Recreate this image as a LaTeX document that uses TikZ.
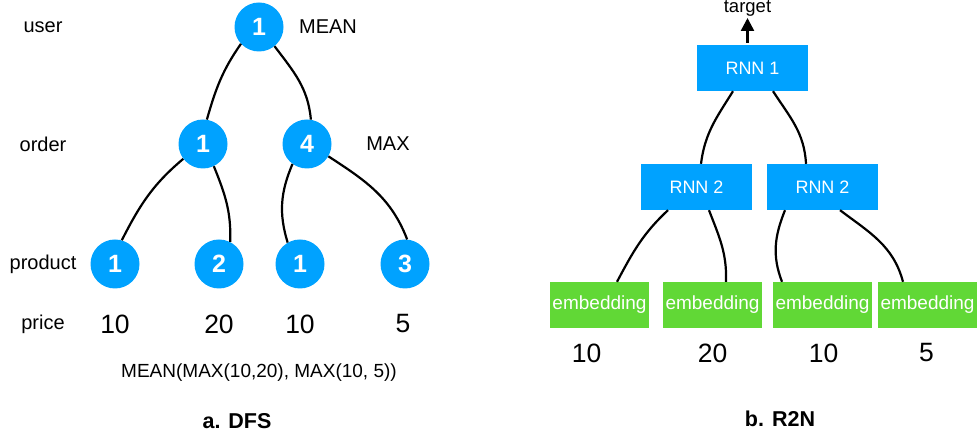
\documentclass[tikz,border=0pt]{standalone}
\usepackage{fontspec}
\setmainfont{Liberation Sans}
\usetikzlibrary{positioning, arrows.meta}
\definecolor{dfsblue}{HTML}{00A2FF}
\definecolor{embgreen}{HTML}{61D836}
\tikzset{x=1pt, y=1pt, on grid, % Centre to centre placement
vert/.style={ % Tree vertices of the DFS picture
circle, fill=dfsblue, minimum size=49pt, inner sep=0pt,
text=white, font=\fontsize{25}{25}\bfseries\selectfont},
rnn/.style={ % RNN cells
rectangle, fill=dfsblue, minimum width=111pt, minimum height=46pt,
inner sep=0pt, text=white, font=\fontsize{18}{18}\selectfont},
emb/.style={ % Embedding cells
rectangle, fill=embgreen, minimum width=99pt, minimum height=46pt,
inner sep=0pt, text=white, font=\fontsize{19}{19}\selectfont},
lbl/.style={inner sep=0pt, font=\fontsize{20}{20}\selectfont},
num/.style={inner sep=0pt, font=\fontsize{26.5}{27}\selectfont},
caption/.style={inner sep=0pt, font=\fontsize{21.5}{22}\bfseries\selectfont},
link/.style={draw, line width=2.2pt}}

\begin{document}
\begin{tikzpicture}
    \useasboundingbox (0,0) rectangle (977,436);
    % a. DFS
    \node[vert] (u) at (259,409) {1};
    \node[vert, below left=117pt and 56pt of u] (o1) {1};
    \node[vert, right=104pt of o1] (o4) {4};
    \node[vert, below left=120pt and 88pt of o1] (p1) {1};
    \node[vert, right=104pt of p1] (p2) {2};
    \node[vert, right=81pt of p2] (p3) {1};
    \node[vert, right=105pt of p3] (p4) {3};
    \node[lbl] (user) at (43,409) {user};
    \node[lbl, below=117pt of user] (order) {order};
    \node[lbl, below=120pt of order] (product) {product};
    \node[lbl, below=60pt of product] (price) {price};
    \node[lbl, right=69pt of u] (mean) {MEAN};
    \node[lbl, right=81pt of o4] (max) {MAX};
    \node[num, below=60pt of p1] (v1) {10};
    \node[num, below=60pt of p2] (v2) {20};
    \node[num, below=60pt of p3] (v3) {10};
    \node[num, below=60pt of p4, xshift=-2pt] (v4) {5};
    \node[inner sep=0pt, font=\fontsize{19}{19}\selectfont] (expr) at (259,63) {MEAN(MAX(10,20), MAX(10, 5))};
    \node[caption] (capa) at (237,15) {a. DFS};
    \path[link] (u.223) to[out=235, in=74] (o1.81);
    \path[link] (u.309) to[out=307, in=95] (o4.81);
    \path[link] (o1.217) to[out=220, in=63] (p1.74);
    \path[link] (o1.296) to[out=292, in=88] (p2.63);
    \path[link] (o4.234) to[out=247, in=107] (p3.120);
    \path[link] (o4.330) to[out=327, in=111] (p4.85);
    % b. R2N
    \node[rnn] (r1) at (752.5,368) {RNN 1};
    \node[rnn, below left=119pt and 56pt of r1] (r2a) {RNN 2};
    \node[rnn, right=126pt of r2a] (r2b) {RNN 2};
    \node[emb, below left=118pt and 97pt of r2a] (e1) {embedding};
    \node[emb, right=113pt of e1] (e2) {embedding};
    \node[emb, right=110pt of e2] (e3) {embedding};
    \node[emb, right=105pt of e3] (e4) {embedding};
    \node[num, below=48pt of e1, xshift=-13pt] (w1) {10};
    \node[num, below=48pt of e2] (w2) {20};
    \node[num, below=48pt of e3, xshift=1pt] (w3) {10};
    \node[num, below=48pt of e4, xshift=-1pt] (w4) {5};
    \node[inner sep=0pt, anchor=base, font=\fontsize{18.5}{18.5}\selectfont] (tgt) at (747.5,423) {target};
    \node[caption] (capb) at (780,17) {b. R2N};
    \draw[line width=2.5pt, -{Triangle[length=13pt, width=13pt]}] ([xshift=-5pt,yshift=2pt]r1.north) -- ([yshift=-5pt]tgt.base);
    \path[link] ([xshift=-19.5pt]r1.south) to[out=238, in=83] ([xshift=4.5pt]r2a.north);
    \path[link] ([xshift=20.5pt]r1.south) to[out=303, in=93] ([xshift=-16.5pt]r2b.north);
    \path[link] ([xshift=-28.5pt]r2a.south) to[out=223, in=62] ([xshift=17.5pt]e1.north);
    \path[link] ([xshift=12.5pt]r2a.south) to[out=291, in=88] ([xshift=13.5pt]e2.north);
    \path[link] ([xshift=-37.5pt]r2b.south) to[out=248, in=111] ([xshift=-40.5pt]e3.north);
    \path[link] ([xshift=17.5pt]r2b.south) to[out=323, in=105] ([xshift=-24.5pt]e4.north);
\end{tikzpicture}
\end{document}
